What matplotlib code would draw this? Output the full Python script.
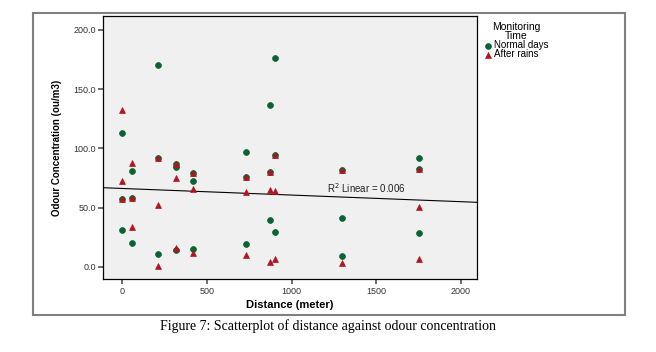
import numpy as np
import matplotlib
matplotlib.use('Agg')
from matplotlib import pyplot as plt
from matplotlib.patches import Rectangle

# data
normal_dist = [0, 0, 0, 60, 60, 60, 210, 210, 210, 320, 320, 320,
               420, 420, 420, 730, 730, 730, 870, 870, 870, 900, 900, 900,
               1300, 1300, 1300, 1750, 1750, 1750]
normal_odour = [113.2, 57.2, 31.0, 80.8, 58.3, 20.3, 170.1, 91.8, 10.7,
                87.0, 84.5, 14.1, 79.1, 72.1, 14.9, 97.1, 75.5, 18.9,
                136.3, 79.7, 39.7, 176.5, 94.6, 29.6, 81.7, 40.9, 9.0,
                91.8, 82.5, 28.5]

rain_dist = [0, 0, 0, 60, 60, 60, 210, 210, 210, 320, 320, 320,
             420, 420, 420, 730, 730, 730, 870, 870, 870, 900, 900, 900,
             1300, 1300, 1750, 1750, 1750]
rain_odour = [132.3, 72.6, 57.2, 87.8, 58.3, 33.3, 91.8, 52.4, 0.9,
              87.0, 74.6, 15.8, 79.1, 65.4, 11.3, 75.5, 63.3, 9.9,
              79.7, 64.8, 4.2, 94.6, 64.2, 6.2, 81.7, 3.1, 82.5, 50.1, 6.5]

# fit line (total) as shown by SPSS
fit_intercept = 66.1
fit_slope = -0.00558
r2_text = 'R$^2$ Linear = 0.006'

x_ticks = [0, 500, 1000, 1500, 2000]
y_ticks = [0, 50, 100, 150, 200]

green = '#0a6332'
red = '#b2151f'

def main():
    fig = plt.figure(figsize=(6.56, 3.52), dpi=100)
    fig.patch.set_facecolor('white')

    # grey outer frame of the chart
    fig.patches.append(Rectangle((0.0508, 0.1051), 0.902, 0.859, transform=fig.transFigure,
                                 fill=False, edgecolor='#808080', linewidth=1.5))

    ax = fig.add_axes([0.1575, 0.2065, 0.5692, 0.748])
    ax.set_facecolor('#f0f0f0')

    ax.scatter(normal_dist, normal_odour, marker='o', s=18, color=green,
               edgecolors=green, linewidths=0.5, zorder=3, label='Normal days')
    ax.scatter(rain_dist, rain_odour, marker='^', s=18, color=red,
               edgecolors=red, linewidths=0.5, zorder=4, label='After rains')

    xl = np.array([-112, 2093])
    ax.plot(xl, fit_intercept + fit_slope * xl, color='black', linewidth=0.8, zorder=2)
    ax.text(1440, 66.8, r2_text, fontsize=7, color='#222222', ha='center', va='center',
            family='Liberation Sans')

    ax.set_xlim(-112, 2093)
    ax.set_ylim(-10.6, 211.7)
    ax.set_xticks(x_ticks)
    ax.set_xticklabels([str(t) for t in x_ticks], family='Liberation Sans', fontsize=6.5, color='#333333')
    ax.set_yticks(y_ticks)
    ax.set_yticklabels([f'{t:.1f}' for t in y_ticks], family='Liberation Sans', fontsize=6.5, color='#333333')
    ax.tick_params(axis='both', length=3.5, width=1.2, color='#555555', pad=2)

    for sp in ax.spines.values():
        sp.set_color('black')
        sp.set_linewidth(0.9)

    ax.set_xlabel('Distance (meter)', family='Liberation Sans', fontweight='bold', fontsize=8, labelpad=3)
    ax.set_ylabel('Odour Concentration (ou/m3)', family='Liberation Sans',
                  fontweight='bold', fontsize=7, labelpad=8)

    leg = ax.legend(loc='upper left', bbox_to_anchor=(1.018, 0.978), frameon=False,
                    title='Monitoring\nTime', prop={'family': 'Liberation Sans', 'size': 7},
                    handletextpad=0.1, handlelength=1.0, borderaxespad=0.0, labelspacing=-0.1,
                    markerscale=1.0, borderpad=0.0)
    leg.get_title().set_fontsize(7.5)
    leg.get_title().set_family('Liberation Sans')
    leg.get_title().set_multialignment('center')
    leg.get_title().set_linespacing(0.95)

    fig.text(0.5, 0.074, 'Figure 7: Scatterplot of distance against odour concentration',
             family='Liberation Serif', fontsize=10, ha='center', va='center')

    fig.savefig('out.png', dpi=100)

if __name__ == '__main__':
    main()
